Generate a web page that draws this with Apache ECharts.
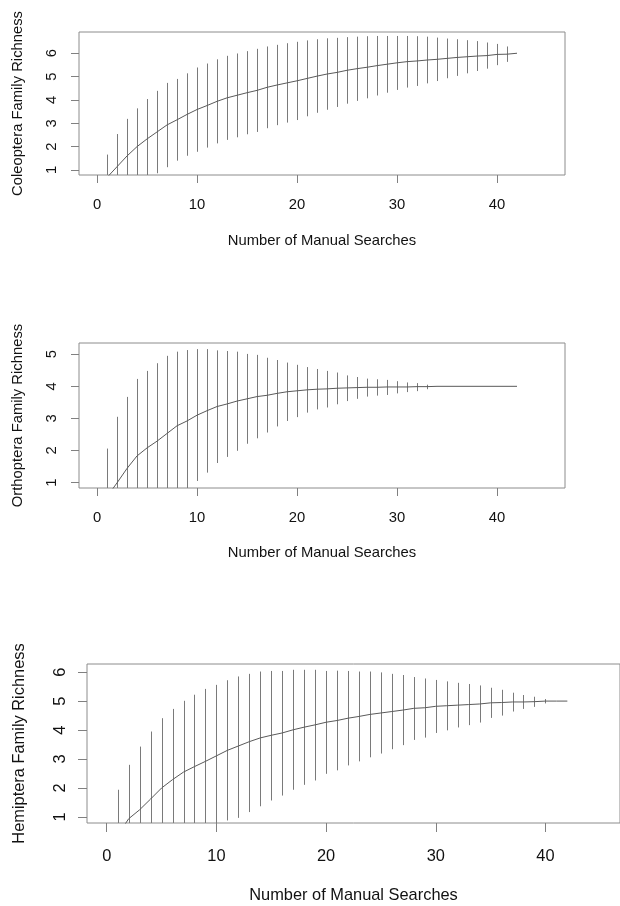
<!DOCTYPE html>
<html lang="en">
<head>
<meta charset="UTF-8">
<title>Family richness accumulation</title>
<style>
    body { margin: 0; background: #fff; }
    #main { width: 620px; height: 906px; }
</style>
</head>
<body>
<div id="main"></div>
<script src="https://cdn.jsdelivr.net/npm/echarts@6/dist/echarts.min.js"></script>
<script>
    // number of manual searches pooled (x) and tick values
    var searches = [1, 2, 3, 4, 5, 6, 7, 8, 9, 10, 11, 12, 13, 14, 15, 16, 17, 18, 19, 20, 21,
        22, 23, 24, 25, 26, 27, 28, 29, 30, 31, 32, 33, 34, 35, 36, 37, 38, 39, 40, 41, 42];
    var xTicks = [0, 10, 20, 30, 40];

    // Coleoptera
    var coleopteraMean = [0.68, 1.14, 1.60, 2.00, 2.33, 2.63, 2.93, 3.15, 3.38, 3.59, 3.76, 3.94, 4.09, 4.20,
        4.31, 4.41, 4.54, 4.64, 4.73, 4.82, 4.92, 5.02, 5.11, 5.18, 5.27, 5.34, 5.40, 5.47, 5.53, 5.59,
        5.64, 5.67, 5.71, 5.74, 5.78, 5.82, 5.85, 5.88, 5.90, 5.95, 5.96, 6.00];
    var coleopteraLower = [-0.30, -0.26, 0.01, 0.36, 0.62, 0.86, 1.12, 1.40, 1.61, 1.78, 1.96, 2.14, 2.29, 2.40,
        2.53, 2.63, 2.79, 2.92, 3.03, 3.14, 3.30, 3.45, 3.58, 3.70, 3.84, 3.96, 4.07, 4.19, 4.31, 4.43,
        4.53, 4.60, 4.71, 4.81, 4.93, 5.03, 5.14, 5.24, 5.34, 5.49, 5.63, 6.00];
    var coleopteraUpper = [1.66, 2.54, 3.19, 3.64, 4.04, 4.39, 4.73, 4.90, 5.14, 5.39, 5.56, 5.74, 5.89, 5.99,
        6.09, 6.19, 6.29, 6.36, 6.43, 6.49, 6.55, 6.60, 6.64, 6.66, 6.69, 6.71, 6.73, 6.74, 6.74, 6.74,
        6.74, 6.73, 6.71, 6.67, 6.63, 6.60, 6.56, 6.52, 6.46, 6.40, 6.29, 6.00];
    var coleopteraTicks = [1, 2, 3, 4, 5, 6];

    // Orthoptera
    var orthopteraMean = [0.56, 0.99, 1.44, 1.83, 2.08, 2.29, 2.53, 2.77, 2.92, 3.10, 3.24, 3.37, 3.45, 3.54,
        3.61, 3.68, 3.72, 3.78, 3.83, 3.86, 3.89, 3.91, 3.92, 3.94, 3.95, 3.96, 3.97, 3.97, 3.98, 3.98,
        3.98, 3.99, 3.99, 4.00, 4.00, 4.00, 4.00, 4.00, 4.00, 4.00, 4.00, 4.00];
    var orthopteraLower = [-0.94, -1.07, -0.79, -0.57, -0.32, -0.14, 0.11, 0.46, 0.71, 1.05, 1.31, 1.61, 1.80, 1.99,
        2.21, 2.38, 2.56, 2.75, 2.92, 3.04, 3.18, 3.28, 3.34, 3.44, 3.54, 3.61, 3.68, 3.71, 3.73, 3.78,
        3.82, 3.85, 3.91, 4.00, 4.00, 4.00, 4.00, 4.00, 4.00, 4.00, 4.00, 4.00];
    var orthopteraUpper = [2.06, 3.05, 3.67, 4.23, 4.48, 4.72, 4.95, 5.08, 5.13, 5.16, 5.16, 5.12, 5.10, 5.08,
        5.01, 4.98, 4.89, 4.82, 4.74, 4.67, 4.60, 4.54, 4.48, 4.43, 4.34, 4.29, 4.24, 4.22, 4.20, 4.16,
        4.12, 4.10, 4.05, 4.00, 4.00, 4.00, 4.00, 4.00, 4.00, 4.00, 4.00, 4.00];
    var orthopteraTicks = [1, 2, 3, 4, 5];

    // Hemiptera
    var hemipteraMean = [0.37, 0.94, 1.25, 1.62, 2.00, 2.29, 2.55, 2.74, 2.92, 3.11, 3.30, 3.45, 3.60, 3.73,
        3.82, 3.90, 4.01, 4.10, 4.18, 4.27, 4.33, 4.41, 4.47, 4.54, 4.59, 4.64, 4.69, 4.75, 4.77, 4.82,
        4.84, 4.86, 4.88, 4.90, 4.94, 4.95, 4.97, 4.97, 4.98, 5.00, 5.00, 5.00];
    var hemipteraLower = [-1.20, -0.92, -0.93, -0.71, -0.41, -0.15, 0.09, 0.26, 0.42, 0.66, 0.88, 0.97, 1.17, 1.37,
        1.57, 1.74, 1.94, 2.11, 2.26, 2.49, 2.61, 2.78, 2.92, 3.06, 3.19, 3.34, 3.48, 3.66, 3.74, 3.90,
        3.99, 4.09, 4.17, 4.26, 4.42, 4.50, 4.64, 4.73, 4.80, 4.92, 5.00, 5.00];
    var hemipteraUpper = [1.94, 2.80, 3.43, 3.95, 4.41, 4.73, 5.01, 5.22, 5.42, 5.56, 5.72, 5.85, 5.94, 6.02,
        6.04, 6.04, 6.08, 6.08, 6.08, 6.04, 6.05, 6.04, 6.02, 6.02, 5.99, 5.94, 5.90, 5.83, 5.78, 5.73,
        5.68, 5.63, 5.59, 5.54, 5.46, 5.39, 5.29, 5.21, 5.15, 5.07, 5.00, 5.00];
    var hemipteraTicks = [1, 2, 3, 4, 5, 6];

    var chart = echarts.init(document.getElementById('main'));
    var font = '"Liberation Sans", Arial, sans-serif';

    function drawBar(params, api) {
        var lo = api.coord([api.value(0), api.value(1)]);
        var hi = api.coord([api.value(0), api.value(2)]);
        var x = Math.round(lo[0]) + 0.5;
        return {
            type: 'line',
            shape: {x1: x, y1: lo[1], x2: x, y2: hi[1]},
            style: {stroke: '#7a7a7a', lineWidth: 1}
        };
    }

    var panels = [
        {name: 'Coleoptera Family Richness', mean: coleopteraMean, lower: coleopteraLower, upper: coleopteraUpper,
            ticks: coleopteraTicks, yMin: 0.786, yMax: 6.91,
            left: 79, top: 32, width: 486, height: 143, fs: 14.8, tick: 8, xGap: 22, nameGapX: 58, yGap: 20, nameGapY: 54},
        {name: 'Orthoptera Family Richness', mean: orthopteraMean, lower: orthopteraLower, upper: orthopteraUpper,
            ticks: orthopteraTicks, yMin: 0.831, yMax: 5.35,
            left: 79, top: 343, width: 486, height: 145, fs: 14.8, tick: 8, xGap: 22, nameGapX: 57, yGap: 20, nameGapY: 54},
        {name: 'Hemiptera Family Richness', mean: hemipteraMean, lower: hemipteraLower, upper: hemipteraUpper,
            ticks: hemipteraTicks, yMin: 0.793, yMax: 6.28,
            left: 87, top: 664, width: 539, height: 159, fs: 16.4, tick: 9, xGap: 25, nameGapX: 64, yGap: 19, nameGapY: 60}
    ];

    var option = {
        backgroundColor: '#fff',
        animation: false,
        textStyle: {fontFamily: font},
        grid: [], xAxis: [], yAxis: [], series: []
    };

    panels.forEach(function (p, i) {
        option.grid.push({
            left: p.left, top: p.top, width: p.width, height: p.height,
            show: true, borderColor: '#8c8c8c', borderWidth: 1, backgroundColor: 'transparent'
        });
        option.xAxis.push({
            type: 'value', gridIndex: i, min: -1.8, max: 46.8,
            name: 'Number of Manual Searches', nameLocation: 'middle', nameGap: p.nameGapX,
            nameTextStyle: {fontSize: p.fs, color: '#111', fontFamily: font},
            axisLine: {show: false, onZero: false},
            axisTick: {show: true, length: p.tick, customValues: xTicks, lineStyle: {color: '#808080'}},
            axisLabel: {customValues: xTicks, margin: p.xGap, fontSize: p.fs, color: '#111', fontFamily: font},
            splitLine: {show: false}
        });
        option.yAxis.push({
            type: 'value', gridIndex: i, min: p.yMin, max: p.yMax,
            name: p.name, nameLocation: 'middle', nameGap: p.nameGapY, nameRotate: 90,
            nameMoveOverlap: false,
            nameTextStyle: {fontSize: p.fs, color: '#111', fontFamily: font},
            axisLine: {show: false, onZero: false},
            axisTick: {show: true, length: p.tick, customValues: p.ticks, lineStyle: {color: '#808080'}},
            axisLabel: {customValues: p.ticks, rotate: 90, margin: p.yGap, fontSize: p.fs, color: '#111', fontFamily: font},
            splitLine: {show: false}
        });
        option.series.push({
            type: 'custom', xAxisIndex: i, yAxisIndex: i, clip: true,
            renderItem: drawBar,
            encode: {x: 0, y: [1, 2]},
            data: searches.map(function (s, k) { return [s, p.lower[k], p.upper[k]]; })
        });
        option.series.push({
            type: 'line', xAxisIndex: i, yAxisIndex: i, clip: true,
            showSymbol: false, symbol: 'none',
            lineStyle: {color: '#5a5a5a', width: 1},
            data: searches.map(function (s, k) { return [s, p.mean[k]]; })
        });
    });

    chart.setOption(option);
</script>
</body>
</html>
